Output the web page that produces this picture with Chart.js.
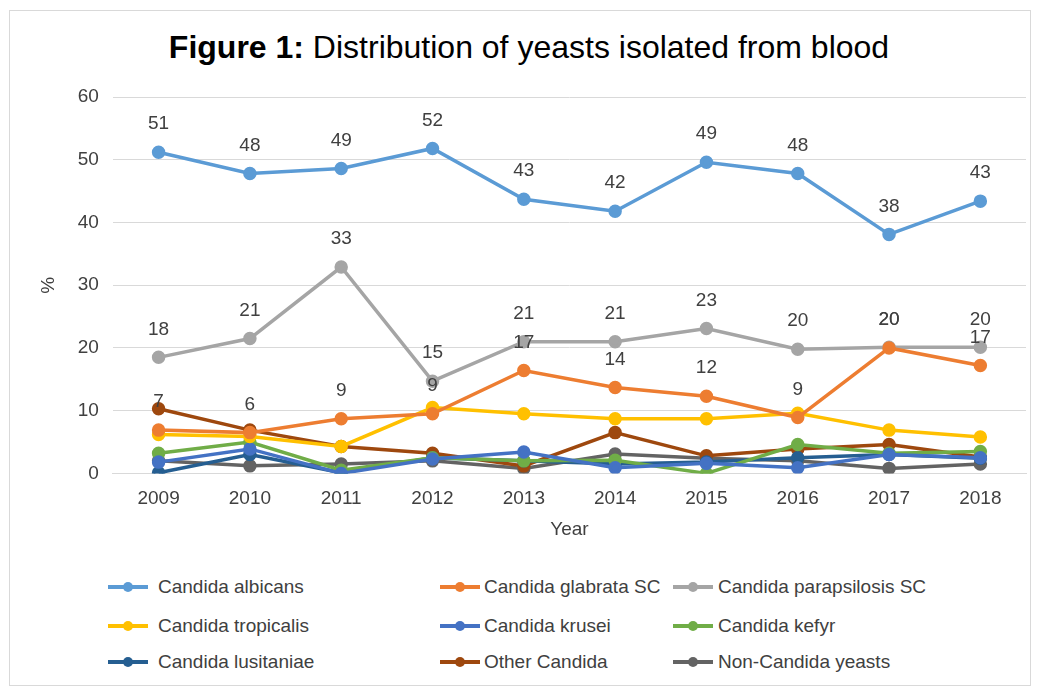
<!DOCTYPE html>
<html>
<head>
<meta charset="utf-8">
<script src="https://cdn.jsdelivr.net/npm/chart.js@4/dist/chart.umd.min.js"></script>
<style>
  body { margin: 0; background: #fff; font-family: "Liberation Sans", Arial, sans-serif; }
  #frame { position: absolute; left: 9px; top: 10px; width: 1020px; height: 674px; border: 1px solid #d9d9d9; }
  #title { position: absolute; left: 0; width: 1058px; top: 28px; text-align: center; font-size: 32px; line-height: 38px; color: #000; }
  #wrap { position: absolute; left: 0; top: 0; width: 1039px; height: 560px; }
  #legend { position: absolute; left: 0; top: 576px; width: 1039px; }
  .item { position: absolute; font-size: 19px; line-height: 22px; color: #404040; white-space: nowrap; }
  .item .mk { position: absolute; left: 0; top: 9px; width: 40px; height: 4px; }
  .item .mk i { position: absolute; left: 15px; top: -3px; width: 10px; height: 10px; border-radius: 50%; }
  .item span { position: absolute; top: 0; }
</style>
</head>
<body>
<div id="frame"></div>
<div id="title"><b>Figure 1:</b> Distribution of yeasts isolated from blood</div>
<div id="wrap"><canvas id="chart"></canvas></div>
<div id="legend"></div>
<script>
// categories
const years = ['2009', '2010', '2011', '2012', '2013', '2014', '2015', '2016', '2017', '2018'];

// series values (%)
const albicans     = [51.2, 47.8, 48.6, 51.8, 43.7, 41.8, 49.6, 47.8, 38.1, 43.4];
const glabrata     = [6.9, 6.5, 8.7, 9.5, 16.4, 13.7, 12.3, 8.9, 20.0, 17.2];
const parapsilosis = [18.5, 21.5, 32.9, 14.7, 21.0, 21.0, 23.1, 19.8, 20.1, 20.1];
const tropicalis   = [6.2, 5.9, 4.3, 10.5, 9.5, 8.7, 8.7, 9.6, 6.9, 5.8];
const krusei       = [1.8, 3.9, 0.0, 2.3, 3.4, 0.9, 1.6, 0.9, 3.0, 2.5];
const kefyr        = [3.2, 5.0, 0.5, 2.5, 2.0, 2.1, 0.0, 4.6, 3.2, 3.5];
const lusitaniae   = [0.1, 3.0, 0.1, 2.5, 2.0, 1.5, 1.8, 2.5, 3.0, 2.4];
const otherCandida = [10.3, 6.9, 4.3, 3.2, 1.2, 6.5, 2.8, 3.9, 4.6, 2.6];
const nonCandida   = [2.0, 1.2, 1.5, 2.0, 0.8, 3.1, 2.4, 2.0, 0.8, 1.5];

// rounded labels shown above the points
const albicansLabels     = [51, 48, 49, 52, 43, 42, 49, 48, 38, 43];
const glabrataLabels     = [7, 6, 9, 9, 17, 14, 12, 9, 20, 17];
const parapsilosisLabels = [18, 21, 33, 15, 21, 21, 23, 20, 20, 20];

const yTicks = [0, 10, 20, 30, 40, 50, 60];

const series = [
    { name: 'Candida albicans', data: albicans, color: '#5B9BD5', labels: albicansLabels },
    { name: 'Candida glabrata SC', data: glabrata, color: '#ED7D31', labels: glabrataLabels },
    { name: 'Candida parapsilosis SC', data: parapsilosis, color: '#A5A5A5', labels: parapsilosisLabels },
    { name: 'Candida tropicalis', data: tropicalis, color: '#FFC000' },
    { name: 'Candida krusei', data: krusei, color: '#4472C4' },
    { name: 'Candida kefyr', data: kefyr, color: '#70AD47' },
    { name: 'Candida lusitaniae', data: lusitaniae, color: '#255E91' },
    { name: 'Other Candida', data: otherCandida, color: '#9E480E' },
    { name: 'Non-Candida yeasts', data: nonCandida, color: '#636363' }
];

const FONT = '"Liberation Sans", Arial, sans-serif';

// draws the value labels above the points
const pointLabels = {
    id: 'pointLabels',
    afterDatasetsDraw(chart) {
        const ctx = chart.ctx;
        ctx.save();
        ctx.font = '19px ' + FONT;
        ctx.fillStyle = '#404040';
        ctx.textAlign = 'center';
        ctx.textBaseline = 'middle';
        series.forEach((s, i) => {
            if (!s.labels) return;
            chart.getDatasetMeta(i).data.forEach((pt, j) => {
                ctx.fillText(s.labels[j], pt.x, pt.y - 28);
            });
        });
        ctx.restore();
    }
};

new Chart(document.getElementById('chart'), {
    type: 'line',
    data: {
        labels: years,
        datasets: series.map(s => ({
            label: s.name,
            data: s.data,
            borderColor: s.color,
            backgroundColor: s.color,
            borderWidth: 3.5,
            pointRadius: 5,
            pointHoverRadius: 5,
            tension: 0
        }))
    },
    options: {
        responsive: true,
        maintainAspectRatio: false,
        animation: false,
        layout: { padding: { left: 33, right: 13, top: 97, bottom: 19 } },
        plugins: {
            legend: { display: false },
            tooltip: { enabled: false }
        },
        scales: {
            x: {
                offset: true,
                grid: { display: false, drawTicks: false },
                border: { display: true, color: '#d9d9d9', width: 1 },
                ticks: { padding: 14, color: '#404040', font: { size: 19, family: FONT } },
                title: { display: true, text: 'Year', color: '#404040', padding: { top: -6, bottom: 0 }, font: { size: 19, family: FONT } }
            },
            y: {
                min: 0,
                max: 60,
                afterBuildTicks: axis => { axis.ticks = yTicks.map(v => ({ value: v })); },
                grid: { color: '#d9d9d9', drawTicks: false },
                border: { display: false },
                ticks: { padding: 14, color: '#404040', font: { size: 19, family: FONT } },
                title: { display: true, text: '%', color: '#404040', font: { size: 19, family: FONT } }
            }
        }
    },
    plugins: [pointLabels]
});

// legend, 3 columns
const legendCols = [108, 440, 673];
const legendText = [158, 484, 718];
const legendRows = [0, 39, 75];
const legendEl = document.getElementById('legend');
series.forEach((s, i) => {
    const c = i % 3;
    const d = document.createElement('div');
    d.className = 'item';
    d.style.left = legendCols[c] + 'px';
    d.style.top = legendRows[Math.floor(i / 3)] + 'px';
    d.innerHTML = '<div class="mk" style="background:' + s.color + '"><i style="background:' + s.color + '"></i></div>' +
        '<span style="left:' + (legendText[c] - legendCols[c]) + 'px">' + s.name + '</span>';
    legendEl.appendChild(d);
});
</script>
</body>
</html>
